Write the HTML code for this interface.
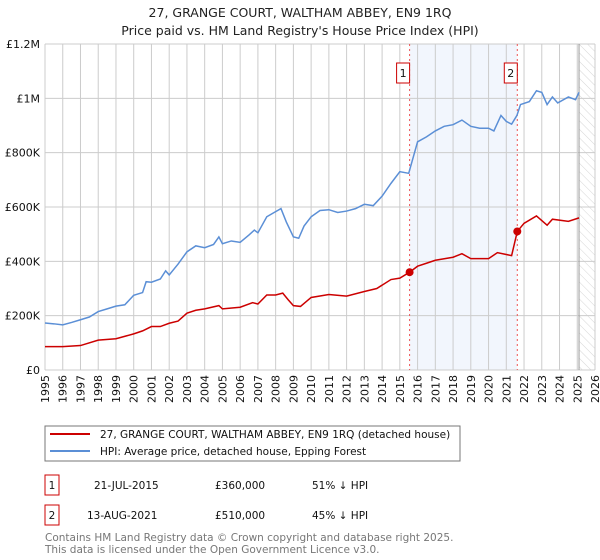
<!DOCTYPE html>
<html><head><meta charset="utf-8"><style>
body{margin:0;background:#fff;font-family:"DejaVu Sans","Liberation Sans",sans-serif;}
svg{display:block}
text{font-family:"DejaVu Sans","Liberation Sans",sans-serif;}
</style></head><body>
<svg id="c" width="600" height="560" viewBox="0 0 600 560">
<defs><pattern id="hatch" width="6" height="6" patternUnits="userSpaceOnUse" patternTransform="rotate(-45)"><line x1="0" y1="0" x2="0" y2="6" stroke="#ccc" stroke-width="0.8"/></pattern></defs>
<text x="300" y="17" text-anchor="middle" font-size="12.5" fill="#222">27, GRANGE COURT, WALTHAM ABBEY, EN9 1RQ</text>
<text x="300" y="35" text-anchor="middle" font-size="12.5" fill="#222">Price paid vs. HM Land Registry's House Price Index (HPI)</text>
<g id="plot"></g>
<g>
<rect x="45" y="426" width="415" height="35" fill="#fff" stroke="#777"/>
<line x1="50" y1="434" x2="90" y2="434" stroke="#cc0000" stroke-width="2"/>
<text x="100" y="438" font-size="10.5" fill="#111">27, GRANGE COURT, WALTHAM ABBEY, EN9 1RQ (detached house)</text>
<line x1="50" y1="451" x2="90" y2="451" stroke="#5b8fd6" stroke-width="2"/>
<text x="100" y="455" font-size="10.5" fill="#111">HPI: Average price, detached house, Epping Forest</text>
</g>
<g font-size="10.5" fill="#111">
<rect x="45" y="475" width="14" height="20" fill="#fff" stroke="#cc0000"/>
<text x="52" y="489" text-anchor="middle">1</text>
<text x="94" y="489">21-JUL-2015</text>
<text x="215" y="489">£360,000</text>
<text x="312" y="489">51% ↓ HPI</text>
<rect x="45" y="505" width="14" height="20" fill="#fff" stroke="#cc0000"/>
<text x="52" y="519" text-anchor="middle">2</text>
<text x="87" y="519">13-AUG-2021</text>
<text x="215" y="519">£510,000</text>
<text x="312" y="519">45% ↓ HPI</text>
</g>
<text x="45" y="541" font-size="10.5" fill="#777">Contains HM Land Registry data © Crown copyright and database right 2025.</text>
<text x="45" y="553" font-size="10.5" fill="#777">This data is licensed under the Open Government Licence v3.0.</text>
</svg>
<script>
const yTicks=[0,200000,400000,600000,800000,1000000,1200000];
const yTickLabels=["£0","£200K","£400K","£600K","£800K","£1M","£1.2M"];
const xYears=[1995,1996,1997,1998,1999,2000,2001,2002,2003,2004,2005,2006,2007,2008,2009,2010,2011,2012,2013,2014,2015,2016,2017,2018,2019,2020,2021,2022,2023,2024,2025,2026];
const hpiDates=[1995,1995.5,1996,1996.5,1997,1997.5,1998,1998.5,1999,1999.5,2000,2000.5,2000.7,2001,2001.5,2001.8,2002,2002.5,2003,2003.5,2004,2004.5,2004.8,2005,2005.5,2006,2006.5,2006.8,2007,2007.5,2008,2008.3,2008.6,2009,2009.3,2009.6,2010,2010.5,2011,2011.5,2012,2012.5,2013,2013.5,2014,2014.5,2015,2015.5,2016,2016.5,2017,2017.5,2018,2018.5,2019,2019.5,2020,2020.3,2020.7,2021,2021.3,2021.6,2021.8,2022.3,2022.7,2023,2023.3,2023.6,2023.9,2024.5,2024.9,2025.1];
const hpiValues=[173,170,166,175,185,195,215,225,235,240,275,285,325,323,335,365,350,390,435,457,450,462,490,465,475,470,497,515,505,564,583,594,545,490,485,530,564,587,590,580,585,594,610,605,640,687,730,724,840,858,880,897,903,920,897,890,890,880,937,915,905,937,977,988,1028,1022,977,1005,983,1005,995,1022];
const ppDates=[1995,1996,1997,1998,1999,2000,2000.5,2001,2001.5,2002,2002.5,2003,2003.5,2004,2004.8,2005,2006,2006.7,2007,2007.5,2008,2008.4,2008.7,2009,2009.4,2010,2011,2012,2013,2013.7,2014.5,2015,2015.55,2016,2016.5,2017,2018,2018.5,2019,2020,2020.5,2021.3,2021.62,2022,2022.7,2023.3,2023.6,2024.5,2025.1];
const ppValues=[86,86,90,110,115,133,144,160,160,172,180,209,220,225,237,225,231,248,243,276,276,283,259,237,234,267,278,272,289,300,333,338,360,382,393,404,415,428,410,410,432,421,510,540,567,533,555,547,560];
const saleDates=[2015.55,2021.62];
const saleValues=[360,510];
const saleLabels=["1","2"];
const X0=45,X1=595,Y0=370,Y1=44;
const xs=y=>X0+(y-1995)*(X1-X0)/31;
const ys=v=>Y0-v*(Y0-Y1)/1200000;
const NS="http://www.w3.org/2000/svg";
const g=document.getElementById('plot');
function mk(t,a){const e=document.createElementNS(NS,t);for(const k in a)e.setAttribute(k,a[k]);g.appendChild(e);return e;}
let e;
e=mk('rect',{x:xs(saleDates[0]),y:Y1,width:xs(saleDates[1])-xs(saleDates[0]),height:Y0-Y1,fill:'#f2f6fd'});


xYears.forEach(y=>{e=mk('line',{x1:xs(y),x2:xs(y),y1:Y1,y2:Y0,stroke:'#ccc','stroke-width':1});


e=mk('text',{x:0,y:0,transform:`translate(${xs(y)+4},375) rotate(-90)`,'text-anchor':'end','font-size':11,fill:'#111'});e.textContent=y;

});
yTicks.forEach((v,i)=>{e=mk('line',{x1:X0,x2:X1,y1:ys(v),y2:ys(v),stroke:'#ccc','stroke-width':1});


e=mk('text',{x:40,y:ys(v)+4,'text-anchor':'end','font-size':11,fill:'#111'});e.textContent=yTickLabels[i];

});
const hx=xs(2025.1);
e=mk('rect',{x:hx,y:Y1,width:X1-hx,height:Y0-Y1,fill:'url(#hatch)'});


e=mk('line',{x1:hx,x2:hx,y1:Y1,y2:Y0,stroke:'#999','stroke-width':1});


saleDates.forEach((d,i)=>{e=mk('line',{x1:xs(d),x2:xs(d),y1:Y1,y2:Y0,stroke:'#e55','stroke-width':1,'stroke-dasharray':'2,3'});

});
e=mk('polyline',{points:hpiDates.map((d,i)=>xs(d)+','+ys(hpiValues[i]*1000)).join(' '),fill:'none',stroke:'#5b8fd6','stroke-width':1.5});


e=mk('polyline',{points:ppDates.map((d,i)=>xs(d)+','+ys(ppValues[i]*1000)).join(' '),fill:'none',stroke:'#cc0000','stroke-width':1.5});


saleDates.forEach((d,i)=>{e=mk('circle',{cx:xs(d),cy:ys(saleValues[i]*1000),r:4,fill:'#cc0000'});


e=mk('rect',{x:xs(d)-13,y:63,width:13,height:20,fill:'#fff',stroke:'#cc0000'});


e=mk('text',{x:xs(d)-6.5,y:77,'text-anchor':'middle','font-size':11,fill:'#111'});e.textContent=saleLabels[i];

});
</script>
</body></html>
